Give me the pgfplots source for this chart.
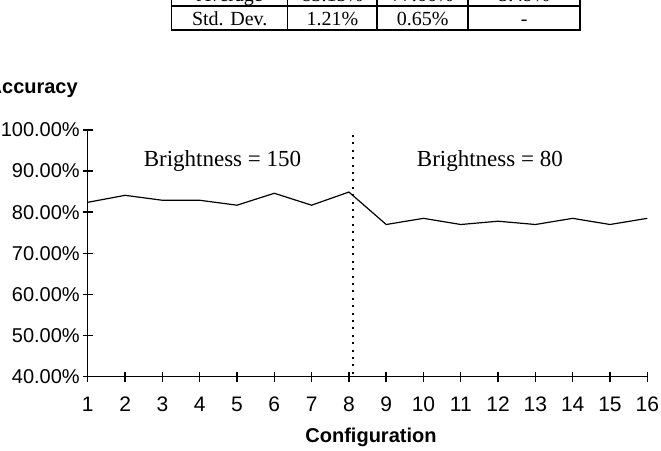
\documentclass[border=0pt]{standalone}
\usepackage{pgfplots}
\pgfplotsset{compat=1.18}
\usepackage{fontspec}
\setmainfont{Liberation Serif}
\newfontfamily\sansf{Liberation Sans}
\begin{document}
\begin{tikzpicture}
\path[use as bounding box, clip] (0pt,0pt) rectangle (330.5pt,-225.5pt);
\begin{scope}[x=0.5pt,y=-0.5pt]
  % partial table
  \begin{scope}[line width=0.8pt]
    \draw (171.7,-18.6) rectangle (580,30);
    \draw (171.7,5.7) -- (580,5.7);
    \foreach \xx in {287.7,377.3,468.3} \draw (\xx,-18.6) -- (\xx,30);
  \end{scope}
  \begin{scope}[every node/.style={font=\fontsize{10}{12}\selectfont, inner sep=0pt, anchor=base}]
    \node at (229.7,1) {Average};
    \node at (332.5,1) {83.15\%};
    \node at (422.8,1) {77.66\%};
    \node at (524.1,1) {5.49\%};
    \node at (229.7,25) {Std. Dev.};
    \node at (332.5,25) {1.21\%};
    \node at (422.8,25) {0.65\%};
    \node at (524.1,25) {-};
  \end{scope}
  \node[font=\sansf\bfseries\fontsize{10}{12}\selectfont, inner sep=0pt, anchor=base west] at (-12.7,93.3) {Accuracy};
  \node[font=\sansf\bfseries\fontsize{10}{12}\selectfont, inner sep=0pt, anchor=base] at (371,442.7) {Configuration};
\end{scope}
\begin{axis}[
  at={(43.9pt,-188.25pt)}, anchor=south west,
  scale only axis, width=279.75pt, height=123.25pt,
  xmin=1, xmax=16, ymin=40, ymax=100,
  axis x line=bottom, axis y line=left,
  axis line style={-, line width=0.7pt},
  every tick/.style={black, line width=0.7pt},
  tick align=center, major tick length=5pt,
  xtick={1,...,16},
  ytick={40,50,60,70,80,90,100},
  yticklabels={40.00\%,50.00\%,60.00\%,70.00\%,80.00\%,90.00\%,100.00\%},
  /pgf/number format/assume math mode=true,
  ticklabel style={font=\sansf\fontsize{10}{12}\selectfont},
  xticklabel style={yshift=-4pt, font=\sansf\fontsize{10.5}{12}\selectfont},
  yticklabel style={xshift=2pt},
  clip=false,
]
\addplot[black, line width=0.6pt] coordinates {
 (1,82.4) (2,84.1) (3,82.9) (4,82.9) (5,81.7) (6,84.6) (7,81.7) (8,84.9)
 (9,77.0) (10,78.5) (11,77.0) (12,77.8) (13,77.0) (14,78.5) (15,77.0) (16,78.5)
};
\addplot[black, line width=1pt, dash pattern=on 1pt off 2.7pt] coordinates {(8.1,98.8) (8.1,40)};
\node[font=\fontsize{11.5}{13}\selectfont, anchor=base] at (axis cs:4.61,91.07) {Brightness = 150};
\node[font=\fontsize{11.5}{13}\selectfont, anchor=base] at (axis cs:11.78,91.07) {Brightness = 80};
\end{axis}
\end{tikzpicture}
\end{document}
